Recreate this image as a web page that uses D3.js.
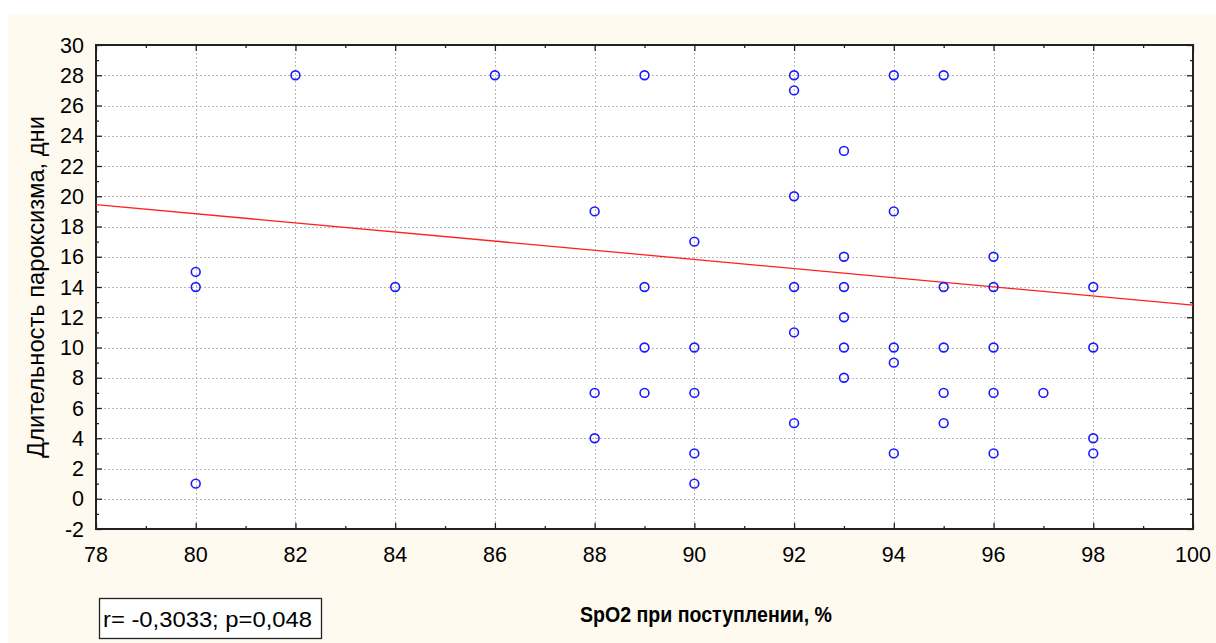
<!DOCTYPE html>
<html>
<head>
<meta charset="utf-8">
<script src="https://cdn.jsdelivr.net/npm/d3@7"></script>
<style>
  body { margin: 0; background: #fff; }
  svg { display: block; }
</style>
</head>
<body>
<svg id="chart" width="1216" height="643"></svg>
<script>
// Data
const spo2 = [80, 80, 80, 82, 84, 86, 88, 88, 88, 89, 89, 89, 89,
  90, 90, 90, 90, 90, 92, 92, 92, 92, 92, 92, 93, 93, 93, 93, 93, 93,
  94, 94, 94, 94, 94, 95, 95, 95, 95, 95, 96, 96, 96, 96, 96, 97, 98, 98, 98, 98];
const days = [15, 14, 1, 28, 14, 28, 19, 7, 4, 28, 14, 10, 7,
  17, 10, 7, 3, 1, 28, 27, 20, 14, 11, 5, 23, 16, 14, 12, 10, 8,
  28, 19, 10, 9, 3, 28, 14, 10, 7, 5, 16, 14, 10, 7, 3, 7, 14, 10, 4, 3];

// regression line end points
const fitX = [78, 100];
const fitY = [19.45, 12.8];

const xTicks = [78, 80, 82, 84, 86, 88, 90, 92, 94, 96, 98, 100];
const yTicks = [-2, 0, 2, 4, 6, 8, 10, 12, 14, 16, 18, 20, 22, 24, 26, 28, 30];

const xLabel = "SpO2 при поступлении, %";
const yLabel = "Длительность пароксизма, дни";
const statText = "r= -0,3033; p=0,048";

const svg = d3.select("#chart");
const font = "Arial, 'Liberation Sans', sans-serif";

// cream panel
svg.append("rect")
  .attr("x", 8).attr("y", 14)
  .attr("width", 1208).attr("height", 629)
  .attr("fill", "#fffaf0");

const plotL = 96, plotR = 1193, plotT = 45, plotB = 529;

const x = d3.scaleLinear().domain([78, 100]).range([plotL, plotR]);
const y = d3.scaleLinear().domain([-2, 30]).range([plotB, plotT]);

// plot area
svg.append("rect")
  .attr("x", plotL).attr("y", plotT)
  .attr("width", plotR - plotL).attr("height", plotB - plotT)
  .attr("fill", "#fff");

// grid
const grid = svg.append("g")
  .attr("stroke", "#b8b8b8")
  .attr("stroke-width", 1)
  .attr("stroke-dasharray", "2,2");

grid.selectAll(".gx")
  .data(xTicks.slice(1, -1))
  .join("line")
  .attr("x1", d => Math.round(x(d)) + 0.5)
  .attr("x2", d => Math.round(x(d)) + 0.5)
  .attr("y1", plotT).attr("y2", plotB);

grid.selectAll(".gy")
  .data(yTicks.slice(1, -1))
  .join("line")
  .attr("y1", d => Math.round(y(d)) + 0.5)
  .attr("y2", d => Math.round(y(d)) + 0.5)
  .attr("x1", plotL).attr("x2", plotR);

// axes: ticks inside on all four sides, minor every 1 unit
const minorX = d3.range(79, 100, 2);
const minorY = d3.range(-1, 30, 2);

function addAxis(axis, transform) {
  svg.append("g")
    .attr("transform", transform)
    .call(axis)
    .call(g => g.select(".domain").remove())
    .call(g => g.selectAll("line").attr("stroke", "#222").attr("stroke-width", 1.3));
}

addAxis(d3.axisBottom(x).tickValues(xTicks).tickSize(-6).tickFormat(""), `translate(0,${plotB})`);
addAxis(d3.axisBottom(x).tickValues(minorX).tickSize(-3).tickFormat(""), `translate(0,${plotB})`);
addAxis(d3.axisTop(x).tickValues(xTicks).tickSize(-6).tickFormat(""), `translate(0,${plotT})`);
addAxis(d3.axisTop(x).tickValues(minorX).tickSize(-3).tickFormat(""), `translate(0,${plotT})`);
addAxis(d3.axisLeft(y).tickValues(yTicks).tickSize(-6).tickFormat(""), `translate(${plotL},0)`);
addAxis(d3.axisLeft(y).tickValues(minorY).tickSize(-3).tickFormat(""), `translate(${plotL},0)`);
addAxis(d3.axisRight(y).tickValues(yTicks).tickSize(-6).tickFormat(""), `translate(${plotR},0)`);
addAxis(d3.axisRight(y).tickValues(minorY).tickSize(-3).tickFormat(""), `translate(${plotR},0)`);

// frame
svg.append("rect")
  .attr("x", plotL).attr("y", plotT)
  .attr("width", plotR - plotL).attr("height", plotB - plotT)
  .attr("fill", "none")
  .attr("stroke", "#222")
  .attr("stroke-width", 2);

// tick labels
svg.append("g")
  .selectAll("text")
  .data(xTicks)
  .join("text")
  .attr("x", d => x(d))
  .attr("y", 562)
  .attr("text-anchor", "middle")
  .attr("font-family", font)
  .attr("font-size", "21.5px")
  .attr("fill", "#000")
  .text(d => d);

svg.append("g")
  .selectAll("text")
  .data(yTicks)
  .join("text")
  .attr("x", 84)
  .attr("y", d => y(d) + 7.5)
  .attr("text-anchor", "end")
  .attr("font-family", font)
  .attr("font-size", "21.5px")
  .attr("fill", "#000")
  .text(d => d);

// regression line
svg.append("line")
  .attr("x1", x(fitX[0])).attr("y1", y(fitY[0]))
  .attr("x2", x(fitX[1])).attr("y2", y(fitY[1]))
  .attr("stroke", "#ff2020")
  .attr("stroke-width", 1.3);

// points
svg.append("g")
  .attr("fill", "none")
  .attr("stroke", "#1a1aff")
  .attr("stroke-width", 1.6)
  .selectAll("circle")
  .data(spo2.map((d, i) => [d, days[i]]))
  .join("circle")
  .attr("cx", d => x(d[0]))
  .attr("cy", d => y(d[1]))
  .attr("r", 4.4);

// axis titles
svg.append("text")
  .attr("transform", "translate(44,287) rotate(-90)")
  .attr("text-anchor", "middle")
  .attr("font-family", font)
  .attr("font-size", "23.7px")
  .attr("fill", "#000")
  .text(yLabel);

svg.append("text")
  .attr("x", 706)
  .attr("y", 622)
  .attr("text-anchor", "middle")
  .attr("font-family", font)
  .attr("font-size", "22px")
  .attr("font-weight", "bold")
  .attr("fill", "#000")
  .attr("textLength", 252)
  .attr("lengthAdjust", "spacingAndGlyphs")
  .text(xLabel);

// stats box
svg.append("rect")
  .attr("x", 99.5).attr("y", 598.5)
  .attr("width", 222).attr("height", 40)
  .attr("fill", "#fff")
  .attr("stroke", "#222")
  .attr("stroke-width", 1.3);

svg.append("text")
  .attr("x", 103)
  .attr("y", 627)
  .attr("font-family", font)
  .attr("font-size", "22px")
  .attr("fill", "#000")
  .attr("textLength", 209)
  .attr("lengthAdjust", "spacingAndGlyphs")
  .text(statText);
</script>
</body>
</html>
